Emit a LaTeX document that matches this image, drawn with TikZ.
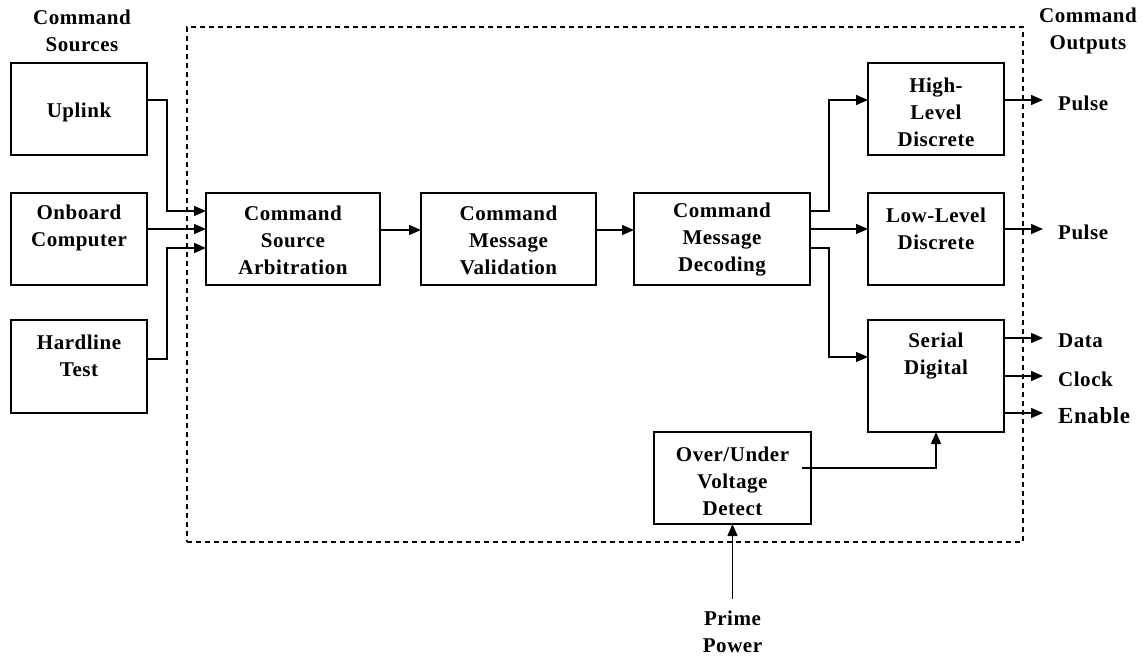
\documentclass[tikz,border=0pt]{standalone}
\usepackage{fontspec}
\setmainfont{Liberation Serif}[LetterSpace=2.5]
\usetikzlibrary{arrows.meta}
\tikzset{
  block/.style={draw, line width=1.8pt, fill=white, inner sep=0pt, outer sep=0pt},
  txt/.style={font=\fontsize{21}{27}\selectfont\bfseries, align=center, inner sep=0pt},
  outlbl/.style={txt, anchor=west},
  arr/.style={line width=1.4pt, -{Triangle[length=12pt,width=10pt]}},
  dashbox/.style={draw, line width=1.3pt, dash pattern=on 5pt off 4pt, inner sep=0pt}
}
\begin{document}
\begin{tikzpicture}[x=1pt,y=-1pt]
\useasboundingbox (0,0) rectangle (1143,658);

% system boundary
\node[dashbox, minimum width=836pt, minimum height=515pt] (sys) at (605,284.5) {};

% column headings
\node[txt] (srcHd) at (82,31) {Command\\Sources};
\node[txt] (outHd) at (1088,31) {Command\\Outputs};

% command sources
\node[block, minimum width=136pt, minimum height=92pt] (up) at (79,109) {};
\node[txt] (upT) at (79,112) {Uplink};
\node[block, minimum width=136pt, minimum height=92pt] (ob) at (79,239) {};
\node[txt] (obT) at (79,228) {Onboard\\Computer};
\node[block, minimum width=136pt, minimum height=93pt] (hl) at (79,366.5) {};
\node[txt] (hlT) at (79,356) {Hardline\\Test};

% processing chain
\node[block, minimum width=174pt, minimum height=92pt] (csa) at (293,239) {};
\node[txt] (csaT) at (293,240) {Command\\Source\\Arbitration};
\node[block, minimum width=175pt, minimum height=92pt] (cmv) at (508.5,239) {};
\node[txt] (cmvT) at (508.5,240) {Command\\Message\\Validation};
\node[block, minimum width=176pt, minimum height=92pt] (cmd) at (722,239) {};
\node[txt] (cmdT) at (722,240) {Command\\Message\\Decoding};

% output drivers
\node[block, minimum width=136pt, minimum height=92pt] (hld) at (936,109) {};
\node[txt] (hldT) at (936,112) {High-\\Level\\Discrete};
\node[block, minimum width=136pt, minimum height=92pt] (lld) at (936,239) {};
\node[txt] (lldT) at (936,229) {Low-Level\\Discrete};
\node[block, minimum width=136pt, minimum height=112pt] (sd) at (936,376) {};
\node[txt] (sdT) at (936,356) {Serial\\Digital};

% power monitor
\node[block, minimum width=157pt, minimum height=92pt] (ouv) at (732.5,478) {};
\node[txt] (ouvT) at (732.5,481) {Over/Under\\Voltage\\Detect};
\node[txt] (ppT) at (732.5,632) {Prime\\Power};

% output labels
\node[outlbl] (p1) at (1058,103) {Pulse};
\node[outlbl] (p2) at (1058,232) {Pulse};
\node[outlbl] (dat) at (1058,341) {Data};
\node[outlbl] (clk) at (1058,379) {Clock};
\node[outlbl, font=\fontsize{23}{27}\selectfont\bfseries] (enb) at (1058,416) {Enable};

% sources into arbitration
\draw[arr] ([yshift=9pt]up.east) -- ++(20,0) |- ([yshift=28pt]csa.west);
\draw[arr] ([yshift=10pt]ob.east) -- ([yshift=10pt]csa.west);
\draw[arr] ([yshift=7.5pt]hl.east) -- ++(20,0) |- ([yshift=-9pt]csa.west);

% main chain
\draw[arr] ([yshift=9pt]csa.east) -- ([yshift=9pt]cmv.west);
\draw[arr] ([yshift=9pt]cmv.east) -- ([yshift=9pt]cmd.west);

% decoding fan-out
\draw[arr] ([yshift=28pt]cmd.east) -- ++(19,0) |- ([yshift=9pt]hld.west);
\draw[arr] ([yshift=10pt]cmd.east) -- ([yshift=10pt]lld.west);
\draw[arr] ([yshift=-9pt]cmd.east) -- ++(19,0) |- ([yshift=19pt]sd.west);

% voltage monitor
\draw[arr] ([xshift=-9pt,yshift=10pt]ouv.east) -| (sd.south);
\draw[arr] ([yshift=12pt]ppT.north) -- (ouv.south);

% outputs
\draw[arr, shorten >=15pt] ([yshift=9pt]hld.east) -- ([yshift=3pt]p1.west);
\draw[arr, shorten >=15pt] ([yshift=10pt]lld.east) -- ([yshift=3pt]p2.west);
\draw[arr, shorten >=15pt] ([yshift=38pt]sd.east) -- ([yshift=3pt]dat.west);
\draw[arr, shorten >=15pt] (sd.east) -- ([yshift=3pt]clk.west);
\draw[arr, shorten >=15pt] ([yshift=-37pt]sd.east) -- ([yshift=3pt]enb.west);
\end{tikzpicture}
\end{document}
